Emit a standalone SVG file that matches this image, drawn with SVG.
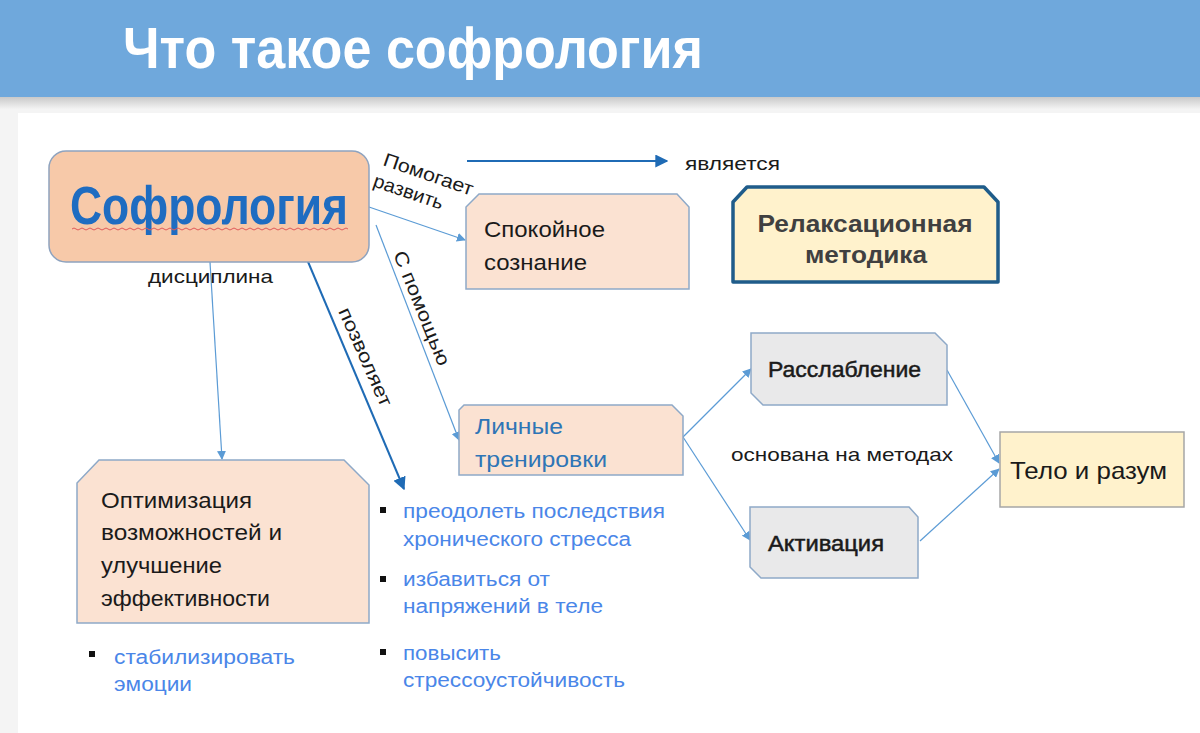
<svg xmlns="http://www.w3.org/2000/svg" width="1200" height="733" viewBox="0 0 1200 733">
<defs>
<style>
.t{font-family:"Liberation Sans",Arial,sans-serif;fill:#1a1a1a}
.b{font-family:"Liberation Sans",Arial,sans-serif;fill:#4a86e8}
.lc{fill:none;stroke:#5b9bd5;stroke-width:1.2}
.dc{fill:none;stroke:#1f6bb5;stroke-width:2}
.pe{fill:#fbe2d2;stroke:#8ea9c8;stroke-width:1.5}
.gr{fill:#e9e9ea;stroke:#8ea9c8;stroke-width:1.5}
</style>
<marker id="la" viewBox="0 0 10 10" refX="9" refY="5" markerWidth="9" markerHeight="9" markerUnits="userSpaceOnUse" orient="auto"><path d="M0,0 L10,5 L0,10 z" fill="#5b9bd5"/></marker>
<marker id="da" viewBox="0 0 10 10" refX="9" refY="5" markerWidth="13" markerHeight="13" markerUnits="userSpaceOnUse" orient="auto"><path d="M0,0 L10,5 L0,10 z" fill="#1f6bb5"/></marker>
<linearGradient id="sh" x1="0" y1="0" x2="0" y2="1"><stop offset="0" stop-color="#c9c9c9"/><stop offset="1" stop-color="#f3f3f3"/></linearGradient>
</defs>
<rect x="0" y="0" width="1200" height="733" fill="#f4f4f4"/>
<rect x="0" y="97" width="1200" height="12" fill="url(#sh)"/>
<rect x="18" y="113" width="1182" height="620" fill="#ffffff"/>
<g id="header">
<rect x="0" y="0" width="1200" height="97" fill="#6fa8dc"/>
<text x="123" y="68" font-family="'Liberation Sans Narrow','Liberation Sans',Arial,sans-serif" font-weight="bold" font-size="57" fill="#ffffff" textLength="580" lengthAdjust="spacingAndGlyphs">Что такое софрология</text>
</g>
<g id="connectors">
<line class="lc" x1="369" y1="207" x2="465" y2="240" marker-end="url(#la)"/>
<line class="lc" x1="376" y1="225" x2="459" y2="440" marker-end="url(#la)"/>
<line class="lc" x1="210" y1="262" x2="222" y2="459" marker-end="url(#la)"/>
<line class="dc" x1="306" y1="257" x2="404" y2="489" marker-end="url(#da)"/>
<line class="dc" x1="467" y1="161" x2="667" y2="161" marker-end="url(#da)"/>
<line class="lc" x1="683" y1="437" x2="751" y2="369" marker-end="url(#la)"/>
<line class="lc" x1="683" y1="437" x2="750" y2="540" marker-end="url(#la)"/>
<line class="lc" x1="947" y1="370" x2="999" y2="463" marker-end="url(#la)"/>
<line class="lc" x1="920" y1="541" x2="999" y2="469" marker-end="url(#la)"/>
<text class="t" font-size="19" transform="translate(382,165) rotate(19)" textLength="94" lengthAdjust="spacingAndGlyphs">Помогает</text>
<text class="t" font-size="19" transform="translate(372,186) rotate(19)" textLength="73" lengthAdjust="spacingAndGlyphs">развить</text>
<text class="t" font-size="19" transform="translate(393,254) rotate(68)" textLength="122" lengthAdjust="spacingAndGlyphs">С помощью</text>
<text class="t" font-size="19" transform="translate(338,311) rotate(66)" textLength="106" lengthAdjust="spacingAndGlyphs">позволяет</text>
<text class="t" x="148" y="283" font-size="19" textLength="125" lengthAdjust="spacingAndGlyphs">дисциплина</text>
<text class="t" x="685" y="170" font-size="18" textLength="95" lengthAdjust="spacingAndGlyphs">является</text>
<text class="t" x="731" y="461" font-size="19" textLength="222" lengthAdjust="spacingAndGlyphs">основана на методах</text>
</g>
<g id="sofrologiya">
<rect x="49" y="151" width="320" height="111" rx="17" fill="#f7c9a9" stroke="#8ea3bf" stroke-width="1.5"/>
<text x="70" y="224" font-family="'Liberation Sans',Arial,sans-serif" font-weight="bold" font-size="53" fill="#1e6cc1" textLength="278" lengthAdjust="spacingAndGlyphs">Софрология</text>
<path d="M72,229 q2,-2 4,0 t4,0 t4,0 t4,0 t4,0 t4,0 t4,0 t4,0 t4,0 t4,0 t4,0 t4,0 t4,0 t4,0 t4,0 t4,0 t4,0 t4,0 t4,0 t4,0 t4,0 t4,0 t4,0 t4,0 t4,0 t4,0 t4,0 t4,0 t4,0 t4,0 t4,0 t4,0 t4,0 t4,0 t4,0 t4,0 t4,0 t4,0 t4,0 t4,0 t4,0 t4,0 t4,0 t4,0 t4,0 t4,0 t4,0 t4,0 t4,0 t4,0 t4,0 t4,0 t4,0 t4,0 t4,0 t4,0 t4,0 t4,0 t4,0 t4,0 t4,0 t4,0 t4,0 t4,0 t4,0 t4,0 t4,0 t4,0 t4,0" fill="none" stroke="#e05a5a" stroke-width="1"/>
</g>
<g id="spokoynoe">
<path class="pe" d="M479,194 L677,194 L689,207 L689,289 L466,289 L466,207 Z"/>
<text class="t" x="484" y="237" font-size="21.5" textLength="121" lengthAdjust="spacingAndGlyphs">Спокойное</text>
<text class="t" x="484" y="270" font-size="21.5" textLength="103" lengthAdjust="spacingAndGlyphs">сознание</text>
</g>
<g id="relaks">
<path d="M747,187 L984,187 L998,202 L998,282 L733,282 L733,202 Z" fill="#fff2cc" stroke="#1f5c8a" stroke-width="3.5" stroke-linejoin="round"/>
<text x="865" y="232" text-anchor="middle" font-family="'Liberation Sans',Arial,sans-serif" font-weight="bold" font-size="23" fill="#404040" textLength="215" lengthAdjust="spacingAndGlyphs">Релаксационная</text>
<text x="866" y="263" text-anchor="middle" font-family="'Liberation Sans',Arial,sans-serif" font-weight="bold" font-size="23" fill="#404040" textLength="122" lengthAdjust="spacingAndGlyphs">методика</text>
</g>
<g id="lichnye">
<path class="pe" d="M464,405 L672,405 L683,416 L683,475 L459,475 L459,410 Z"/>
<text x="475" y="434" font-family="'Liberation Sans',Arial,sans-serif" font-size="21.5" fill="#2e75b6" textLength="88" lengthAdjust="spacingAndGlyphs">Личные</text>
<text x="475" y="467" font-family="'Liberation Sans',Arial,sans-serif" font-size="21.5" fill="#2e75b6" textLength="132" lengthAdjust="spacingAndGlyphs">тренировки</text>
</g>
<g id="rasslablenie">
<path class="gr" d="M751,333 L935,333 L947,345 L947,405 L763,405 L751,393 Z"/>
<text class="t" x="768" y="377" font-size="22" stroke="#1a1a1a" stroke-width="0.5" textLength="153" lengthAdjust="spacingAndGlyphs">Расслабление</text>
</g>
<g id="aktivatsiya">
<path class="gr" d="M750,507 L909,507 L918,517 L918,578 L761,578 L750,567 Z"/>
<text class="t" x="768" y="551" font-size="22" stroke="#1a1a1a" stroke-width="0.5" textLength="116" lengthAdjust="spacingAndGlyphs">Активация</text>
</g>
<g id="telo">
<rect x="1000" y="432" width="184" height="75" fill="#fff2cc" stroke="#a6a6a6" stroke-width="1.5"/>
<text class="t" x="1010" y="479" font-size="24" textLength="157" lengthAdjust="spacingAndGlyphs">Тело и разум</text>
</g>
<g id="optimizatsiya">
<path class="pe" d="M99,460 L344,460 L369,485 L369,623 L77,623 L77,483 Z"/>
<text class="t" x="101" y="508" font-size="22" textLength="151" lengthAdjust="spacingAndGlyphs">Оптимизация</text>
<text class="t" x="101" y="540" font-size="22" textLength="181" lengthAdjust="spacingAndGlyphs">возможностей и</text>
<text class="t" x="101" y="573" font-size="22" textLength="121" lengthAdjust="spacingAndGlyphs">улучшение</text>
<text class="t" x="101" y="606" font-size="22" textLength="169" lengthAdjust="spacingAndGlyphs">эффективности</text>
</g>
<g id="bullets-left">
<rect x="89" y="651" width="6" height="6" fill="#111"/>
<text class="b" x="114" y="664" font-size="19.5" textLength="181" lengthAdjust="spacingAndGlyphs">стабилизировать</text>
<text class="b" x="114" y="691" font-size="19.5" textLength="78" lengthAdjust="spacingAndGlyphs">эмоции</text>
</g>
<g id="bullets-right">
<rect x="380" y="507" width="6" height="6" fill="#111"/>
<text class="b" x="403" y="518" font-size="19.5" textLength="262" lengthAdjust="spacingAndGlyphs">преодолеть последствия</text>
<text class="b" x="403" y="546" font-size="19.5" textLength="228" lengthAdjust="spacingAndGlyphs">хронического стресса</text>
<rect x="380" y="576" width="6" height="6" fill="#111"/>
<text class="b" x="403" y="586" font-size="19.5" textLength="147" lengthAdjust="spacingAndGlyphs">избавиться от</text>
<text class="b" x="403" y="613" font-size="19.5" textLength="200" lengthAdjust="spacingAndGlyphs">напряжений в теле</text>
<rect x="380" y="649" width="6" height="6" fill="#111"/>
<text class="b" x="403" y="660" font-size="19.5" textLength="98" lengthAdjust="spacingAndGlyphs">повысить</text>
<text class="b" x="403" y="687" font-size="19.5" textLength="222" lengthAdjust="spacingAndGlyphs">стрессоустойчивость</text>
</g>
</svg>
